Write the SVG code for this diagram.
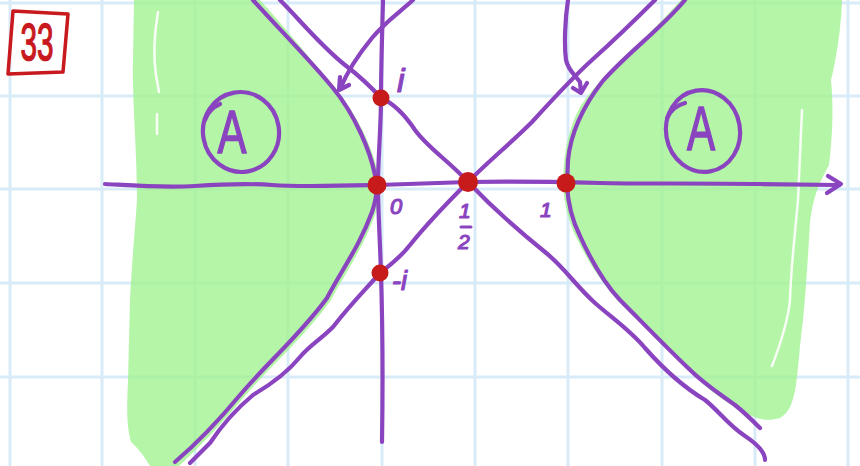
<svg xmlns="http://www.w3.org/2000/svg" width="860" height="466" viewBox="0 0 860 466">
<defs>
<style>
.grid line{stroke:#d7ebf8;stroke-width:3}
.fill{fill:#a1f291;fill-opacity:0.8}
.gap{fill:none;stroke:#ffffff;stroke-width:2.5;stroke-linecap:round;stroke-linejoin:round;opacity:0.9}
.pen{fill:none;stroke:#8a44bf;stroke-width:4.2;stroke-linecap:round;stroke-linejoin:round}
.dot{fill:#c71b1b}
.lbl{fill:#8a44bf;stroke:#8a44bf;stroke-width:1.2;stroke-linejoin:round;font-family:"Liberation Sans",Arial,sans-serif;font-style:italic}
.big{fill:#8a44bf;stroke:#8a44bf;stroke-width:1.6;stroke-linejoin:round;font-family:"Liberation Sans",Arial,sans-serif;text-anchor:middle}
</style>
</defs>
<rect width="860" height="466" fill="#ffffff"/>
<g class="grid">
<line x1="10" y1="0" x2="10" y2="466"/><line x1="102" y1="0" x2="102" y2="466"/>
<line x1="195" y1="0" x2="195" y2="466"/><line x1="288" y1="0" x2="288" y2="466"/>
<line x1="382" y1="0" x2="382" y2="466"/><line x1="475" y1="0" x2="475" y2="466"/>
<line x1="568" y1="0" x2="568" y2="466"/><line x1="662" y1="0" x2="662" y2="466"/>
<line x1="755" y1="0" x2="755" y2="466"/><line x1="848" y1="0" x2="848" y2="466"/>
<line x1="0" y1="3" x2="860" y2="3"/><line x1="0" y1="96" x2="860" y2="96"/>
<line x1="0" y1="189" x2="860" y2="189"/><line x1="0" y1="283" x2="860" y2="283"/>
<line x1="0" y1="377" x2="860" y2="377"/>
</g>
<g id="region-left">
<path class="fill" d="M134,0 L260,0 C287,30 313,62 337,90 C359,118 374,150 379,178 C381,195 379,205 375,215 C363,248 346,272 331,300 C304,338 273,363 244,397 C219,427 199,447 179,466 L150,466 C145,458 140,450 131,442 C126,425 127,405 128,380 L130,300 C132,260 135,230 137,200 C137,150 132,100 133,60 Z"/>
<path class="gap" d="M158,12 C154,35 153,55 156,75 L159,92 M157,114 L157,134"/>
</g>
<g id="region-right">
<path class="fill" d="M681,0 L842,0 C841,30 836,60 831,80 C834,110 832,140 829,165 C818,185 813,198 810,222 C808,255 806,290 803,320 C800,342 799,362 796,385 C793,402 790,412 780,418 C770,421 760,420 752,416 L745,414 C725,401 709,391 689,371 C664,346 644,326 623,306 C603,286 588,261 578,241 C570,226 564,205 563,185 C563,160 567,130 580,107 C593,87 613,67 638,44 C658,25 670,12 681,0 Z"/>
<path class="gap" d="M802,110 L798,200 C795,235 791,265 790,300 C788,320 782,340 772,366"/>
</g>
<g id="connectors">
<path id="real-axis" class="pen" d="M105,184 C140,186 165,188 195,186 S245,183 272,185 S335,186 378,185 L468,182 C520,181 560,182 600,183 S700,183 760,184 L837,185"/>
<path class="pen" d="M828,176 L841,184 L827,193"/>
<path id="imag-axis" class="pen" d="M383,0 C382,40 381,70 381,98 S378,160 378,185 S380,240 381,273 S383,380 382,442"/>
<path id="hyperbola-left" class="pen" d="M253,0 C280,30 310,60 333,88 C355,115 370,150 375,175 C378,190 376,200 372,212 C360,245 343,268 327,298 C300,335 270,360 240,395 C215,425 195,445 175,462"/>
<path id="hyperbola-right" class="pen" d="M685,0 C662,28 625,55 602,82 C585,104 571,130 568,160 L567,185 C568,205 573,222 580,236 C590,258 603,282 620,300 C640,320 662,343 687,367 C705,385 720,394 735,405 C745,413 752,420 760,428"/>
<path id="line-i" class="pen" d="M280,0 C300,20 320,45 345,65 C362,78 372,88 381,98 C395,104 405,115 415,130 C428,148 450,162 468,182 C490,205 515,228 545,252 C565,268 575,285 595,303 C612,318 630,330 645,348 C660,365 680,385 705,400 C718,410 728,425 745,436 C757,444 765,452 765,460"/>
<path id="line-minus-i" class="pen" d="M655,0 C630,25 612,42 592,60 C572,78 552,100 532,122 C512,142 490,160 468,182 C450,200 430,220 410,245 C400,258 390,265 380,273 C365,290 350,305 333,327 C320,340 310,345 300,357 C287,373 270,385 253,395 C235,410 222,425 210,443 L190,463"/>
<path id="arrow-left" class="pen" d="M413,0 C400,12 385,22 372,38 C358,55 348,70 340,89 M340,77 L339,90 L349,85"/>
<path id="arrow-right" class="pen" d="M568,0 C565,20 564,45 566,60 C568,70 575,75 580,82 L581,92 M573,88 L581,93 L587,83"/>
</g>
<g id="node-i"><circle class="dot" cx="381" cy="98" r="8.5"/><text class="lbl" x="397" y="92" font-size="34">i</text></g>
<g id="node-0"><circle class="dot" cx="377" cy="185" r="9.5"/><text class="lbl" x="390" y="214" font-size="22">0</text></g>
<g id="node-half"><circle class="dot" cx="468" cy="182" r="10"/>
<text class="lbl" x="459" y="218" font-size="21">1</text>
<line x1="461" y1="227" x2="471" y2="227" stroke="#8a44bf" stroke-width="3" stroke-linecap="round"/>
<text class="lbl" x="458" y="249" font-size="21">2</text></g>
<g id="node-1"><circle class="dot" cx="566" cy="183" r="9.5"/><text class="lbl" x="540" y="217" font-size="21">1</text></g>
<g id="node-minus-i"><circle class="dot" cx="380" cy="273" r="8.5"/><text class="lbl" x="392" y="290" font-size="27">-i</text></g>
<g id="label-A-left">
<ellipse class="pen" cx="241" cy="132" rx="38" ry="40" transform="rotate(-10 241 132)"/>
<path class="pen" d="M205,120 C208,112 213,107 220,104" stroke-width="2.5"/>
<text class="big" font-size="62" transform="translate(232,153) scale(0.7,1)">A</text>
</g>
<g id="label-A-right">
<ellipse class="pen" cx="703" cy="131" rx="37" ry="41" transform="rotate(-10 703 131)"/>
<path class="pen" d="M667,118 C671,110 677,105 685,103" stroke-width="2.5"/>
<text class="big" font-size="62" transform="translate(701,150) scale(0.68,1)">A</text>
</g>
<g id="tag-33">
<path d="M13,11 L68,14 L63,72 L8,74 Z" fill="none" stroke="#c8191e" stroke-width="3.5" stroke-linejoin="round"/>
<text font-family="Liberation Sans,Arial,sans-serif" font-size="52" fill="#c8191e" stroke="#c8191e" stroke-width="1.5" text-anchor="middle" transform="translate(37,60) scale(0.57,1)">33</text>
</g>
</svg>
